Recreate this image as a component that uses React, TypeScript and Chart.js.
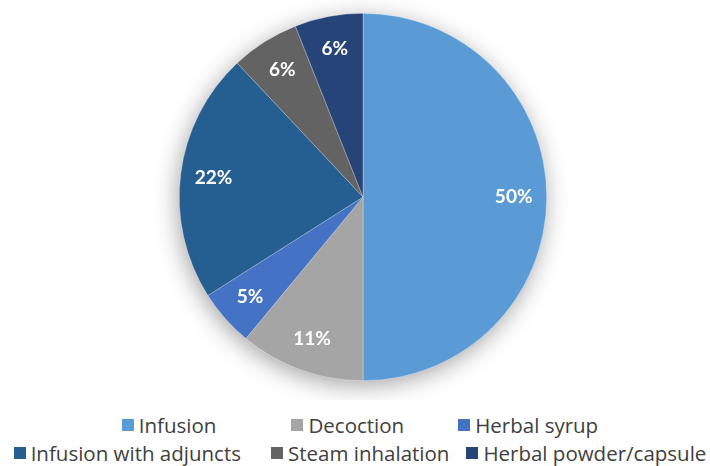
import React, { useEffect, useRef } from "react";
import { Chart, registerables } from "chart.js";

Chart.register(...registerables);

const categories = [
  "Infusion",
  "Decoction",
  "Herbal syrup",
  "Infusion with adjuncts",
  "Steam inhalation",
  "Herbal powder/capsule",
];
const shares = [50, 11, 5, 22, 6, 6];
const sliceColors = ["#5B9BD5", "#A5A5A5", "#4472C4", "#255E91", "#636363", "#264478"];
const legendRows = [
  [0, 1, 2],
  [3, 4, 5],
];
const legendGaps = [
  [75, 54],
  [30, 17],
];

const FONT = "'Open Sans', Lato, sans-serif";
const LABEL_FONT = "Lato, 'Open Sans', sans-serif";

const shadowPlugin = {
  id: "pieShadow",
  beforeDatasetsDraw(chart: any) {
    const meta = chart.getDatasetMeta(0);
    const arc = meta.data[0];
    if (!arc) return;
    const { x, y, outerRadius } = arc.getProps(["x", "y", "outerRadius"], true);
    const ctx = chart.ctx;
    ctx.save();
    ctx.shadowColor = "rgba(0,0,0,0.38)";
    ctx.shadowBlur = 24;
    ctx.shadowOffsetX = -2;
    ctx.shadowOffsetY = 5;
    ctx.fillStyle = "#808080";
    ctx.beginPath();
    ctx.arc(x, y, outerRadius - 1, 0, Math.PI * 2);
    ctx.fill();
    ctx.restore();
  },
};

const labelPlugin = {
  id: "sliceLabels",
  afterDatasetsDraw(chart: any) {
    const meta = chart.getDatasetMeta(0);
    const ctx = chart.ctx;
    const data = chart.data.datasets[0].data as number[];
    const total = data.reduce((a: number, b: number) => a + b, 0);
    ctx.save();
    ctx.fillStyle = "#FFFFFF";
    ctx.font = `bold 19px ${LABEL_FONT}`;
    ctx.textAlign = "center";
    ctx.textBaseline = "middle";
    meta.data.forEach((arc: any, i: number) => {
      const { x, y, startAngle, endAngle, outerRadius } = arc.getProps(
        ["x", "y", "startAngle", "endAngle", "outerRadius"],
        true
      );
      const mid = (startAngle + endAngle) / 2;
      const r = outerRadius * 0.82;
      const pct = Math.round((data[i] / total) * 100);
      ctx.fillText(`${pct}%`, x + Math.cos(mid) * r, y + Math.sin(mid) * r);
    });
    ctx.restore();
  },
};

export default function App() {
  const canvasRef = useRef<HTMLCanvasElement | null>(null);

  useEffect(() => {
    document.body.style.margin = "0";
    if (!canvasRef.current) return;
    const chart = new Chart(canvasRef.current, {
      type: "pie",
      data: {
        labels: categories,
        datasets: [
          {
            data: shares,
            backgroundColor: sliceColors,
            borderColor: "rgba(255,255,255,0.6)",
            borderWidth: 0.5,
          },
        ],
      },
      options: {
        responsive: false,
        animation: false,
        layout: { padding: { left: 16, right: 0, top: 13, bottom: 19 } },
        plugins: {
          legend: { display: false },
          tooltip: { enabled: false },
        },
      },
      plugins: [shadowPlugin, labelPlugin],
    });
    return () => chart.destroy();
  }, []);

  return (
    <div
      style={{
        position: "relative",
        width: 710,
        height: 466,
        background: "#FFFFFF",
        overflow: "hidden",
      }}
    >
      <canvas
        ref={canvasRef}
        width={710}
        height={400}
        style={{ position: "absolute", left: 0, top: 0, width: 710, height: 400 }}
      />
      {legendRows.map((row, ri) => (
        <div
          key={ri}
          style={{
            position: "absolute",
            left: 0,
            width: 720,
            top: ri === 0 ? 411 : 439,
            height: 28,
            display: "flex",
            justifyContent: "center",
            alignItems: "center",
            fontFamily: FONT,
            fontSize: 20.5,
            color: "#404040",
            whiteSpace: "nowrap",
          }}
        >
          {row.map((idx, k) => (
            <div
              key={idx}
              style={{
                display: "flex",
                alignItems: "center",
                marginLeft: k === 0 ? 0 : legendGaps[ri][k - 1],
              }}
            >
              <span
                style={{
                  display: "inline-block",
                  width: 12,
                  height: 12,
                  background: sliceColors[idx],
                  marginRight: 5,
                }}
              />
              <span>{categories[idx]}</span>
            </div>
          ))}
        </div>
      ))}
    </div>
  );
}
